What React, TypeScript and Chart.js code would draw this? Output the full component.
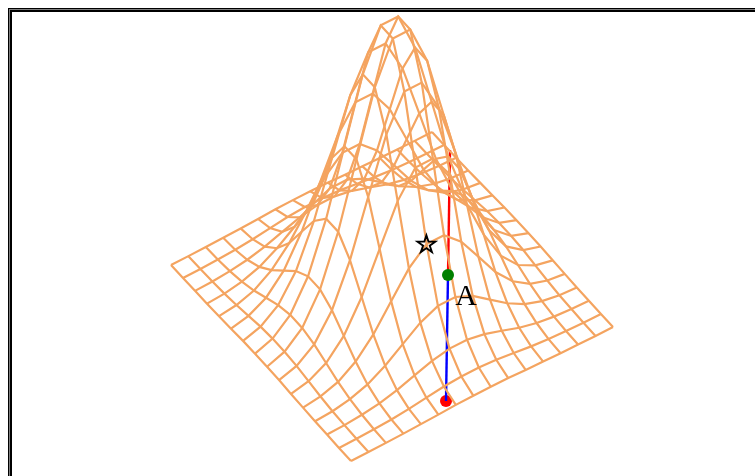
import React, { useEffect, useRef } from "react";
import { Chart, registerables } from "chart.js";

Chart.register(...registerables);

// Surface heights (16 x 16 grid, 0..1)
const surfaceZ: number[][] = [
  [0.000, 0.000, 0.001, 0.002, 0.004, 0.006, 0.009, 0.010, 0.010, 0.009, 0.006, 0.004, 0.002, 0.001, 0.000, 0.000],
  [0.000, 0.001, 0.003, 0.006, 0.012, 0.020, 0.028, 0.032, 0.032, 0.028, 0.020, 0.012, 0.006, 0.003, 0.001, 0.000],
  [0.001, 0.003, 0.008, 0.017, 0.032, 0.053, 0.073, 0.085, 0.085, 0.073, 0.053, 0.032, 0.017, 0.008, 0.003, 0.001],
  [0.002, 0.006, 0.017, 0.038, 0.073, 0.118, 0.163, 0.191, 0.191, 0.163, 0.118, 0.073, 0.038, 0.017, 0.006, 0.002],
  [0.004, 0.012, 0.032, 0.073, 0.138, 0.225, 0.310, 0.365, 0.365, 0.310, 0.225, 0.138, 0.073, 0.032, 0.012, 0.004],
  [0.006, 0.020, 0.053, 0.118, 0.225, 0.365, 0.504, 0.592, 0.592, 0.504, 0.365, 0.225, 0.118, 0.053, 0.020, 0.006],
  [0.009, 0.028, 0.073, 0.163, 0.310, 0.504, 0.696, 0.817, 0.817, 0.696, 0.504, 0.310, 0.163, 0.073, 0.028, 0.009],
  [0.010, 0.032, 0.085, 0.191, 0.365, 0.592, 0.817, 0.960, 0.960, 0.817, 0.592, 0.365, 0.191, 0.085, 0.032, 0.010],
  [0.010, 0.032, 0.085, 0.191, 0.365, 0.592, 0.817, 0.960, 0.960, 0.817, 0.592, 0.365, 0.191, 0.085, 0.032, 0.010],
  [0.009, 0.028, 0.073, 0.163, 0.310, 0.504, 0.696, 0.817, 0.817, 0.696, 0.504, 0.310, 0.163, 0.073, 0.028, 0.009],
  [0.006, 0.020, 0.053, 0.118, 0.225, 0.365, 0.504, 0.592, 0.592, 0.504, 0.365, 0.225, 0.118, 0.053, 0.020, 0.006],
  [0.004, 0.012, 0.032, 0.073, 0.138, 0.225, 0.310, 0.365, 0.365, 0.310, 0.225, 0.138, 0.073, 0.032, 0.012, 0.004],
  [0.002, 0.006, 0.017, 0.038, 0.073, 0.118, 0.163, 0.191, 0.191, 0.163, 0.118, 0.073, 0.038, 0.017, 0.006, 0.002],
  [0.001, 0.003, 0.008, 0.017, 0.032, 0.053, 0.073, 0.085, 0.085, 0.073, 0.053, 0.032, 0.017, 0.008, 0.003, 0.001],
  [0.000, 0.001, 0.003, 0.006, 0.012, 0.020, 0.028, 0.032, 0.032, 0.028, 0.020, 0.012, 0.006, 0.003, 0.001, 0.000],
  [0.000, 0.000, 0.001, 0.002, 0.004, 0.006, 0.009, 0.010, 0.010, 0.009, 0.006, 0.004, 0.002, 0.001, 0.000, 0.000],
];

// Annotation points, in the chart's axis units
const redPoint = { x: 446, y: 401 };
const greenPoint = { x: 448, y: 275 };
const topPoint = { x: 450, y: 150 };
const starPoint = { x: 426.5, y: 246 };
const labelPoint = { x: 466, y: 305 };

// View calibration: the ground corners of the surface, the height scale and its lean
const cL = [171, 265];
const cB = [351, 461];
const cR = [613, 327];
const cT = [432, 132];
const heightScale = 280;
const heightLean = 0.014;

function project(i: number, j: number, z: number) {
  const u = i / 15;
  const v = j / 15;
  const mix = (k: number) =>
    cL[k] * (1 - u) * (1 - v) + cB[k] * u * (1 - v) + cR[k] * u * v + cT[k] * (1 - u) * v;
  const hp = z * heightScale;
  return { x: mix(0) + hp * heightLean, y: mix(1) - hp };
}

const MESH = "#f4a460";

const annotationPlugin = {
  id: "annotationText",
  afterDatasetsDraw(chart: any) {
    const { ctx, scales } = chart;
    ctx.save();
    ctx.textAlign = "center";
    ctx.fillStyle = "#000";
    ctx.strokeStyle = "#000";
    ctx.textBaseline = "middle";
    ctx.font = '26px "DejaVu Sans"';
    ctx.lineWidth = 1.2;
    const sx = scales.x.getPixelForValue(starPoint.x);
    const sy = scales.y.getPixelForValue(starPoint.y);
    ctx.fillText("☆", sx, sy);
    ctx.strokeText("☆", sx, sy);
    ctx.textBaseline = "alphabetic";
    ctx.font = '30px "Liberation Serif"';
    ctx.fillText("A", scales.x.getPixelForValue(labelPoint.x), scales.y.getPixelForValue(labelPoint.y));
    ctx.restore();
  },
};

export default function App() {
  const ref = useRef<HTMLCanvasElement>(null);
  useEffect(() => {
    const base = { pointRadius: 0, showLine: true, fill: false, tension: 0 };
    const datasets: any[] = [];
    datasets.push({ ...base, data: [greenPoint], pointRadius: 6, pointBackgroundColor: "#008000", pointBorderWidth: 0, showLine: false, order: 0 });
    surfaceZ.forEach((row, i) => {
      datasets.push({ ...base, data: row.map((z, j) => project(i, j, z)), borderColor: MESH, borderWidth: 2.2, order: 1 });
    });
    for (let j = 0; j < 16; j++) {
      datasets.push({ ...base, data: surfaceZ.map((row, i) => project(i, j, row[j])), borderColor: MESH, borderWidth: 2.2, order: 1 });
    }
    datasets.push({ ...base, data: [greenPoint, topPoint], borderColor: "#ff0000", borderWidth: 2.4, order: 2 });
    datasets.push({ ...base, data: [redPoint, greenPoint], borderColor: "#0000ff", borderWidth: 2.4, order: 2 });
    datasets.push({ ...base, data: [redPoint], pointRadius: 6, pointBackgroundColor: "#ff0000", pointBorderWidth: 0, showLine: false, order: 2 });

    const chart = new Chart(ref.current!, {
      type: "scatter",
      data: { datasets },
      plugins: [annotationPlugin],
      options: {
        animation: false,
        responsive: false,
        layout: { padding: 0, autoPadding: false },
        plugins: { legend: { display: false }, tooltip: { enabled: false } },
        scales: {
          x: { type: "linear", display: false, min: 0, max: 755 },
          y: { type: "linear", display: false, min: 0, max: 476, reverse: true },
        },
      },
    } as any);
    return () => chart.destroy();
  }, []);
  return (
    <div style={{ position: "fixed", left: 0, top: 0, width: 755, height: 476, overflow: "hidden", background: "#fff" }}>
      <div style={{ position: "absolute", left: 8, top: 8, width: 900, height: 700, border: "4px solid #000", boxSizing: "border-box" }}>
        <div style={{ position: "absolute", left: -3, top: -3, right: -3, bottom: -3, border: "1px solid #808080" }} />
      </div>
      <canvas ref={ref} width={755} height={476} style={{ position: "absolute", left: 0, top: 0, width: 755, height: 476 }} />
    </div>
  );
}
